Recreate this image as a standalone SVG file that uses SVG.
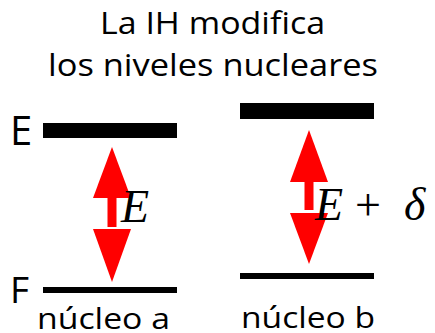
<svg xmlns="http://www.w3.org/2000/svg" width="435" height="333" viewBox="0 0 435 333">
<style>
.t{font-family:"Open Sans","Liberation Sans",sans-serif;fill:#000}
.m{font-family:"Liberation Serif","DejaVu Serif",serif;font-style:italic;font-size:46px;fill:#000}
.mu{font-family:"Liberation Serif","DejaVu Serif",serif;font-size:46px;fill:#000}
.bar{fill:#000}
.arr{fill:#FF0000}
</style>
<rect width="435" height="333" fill="#fff"/>
<g id="title">
<text class="t" x="100" y="34" font-size="31" textLength="225" lengthAdjust="spacingAndGlyphs">La IH modifica</text>
<text class="t" x="48" y="76" font-size="31" textLength="330" lengthAdjust="spacingAndGlyphs">los niveles nucleares</text>
</g>
<g id="labels">
<text class="t" x="10" y="145" font-size="40">E</text>
<text class="t" x="10" y="303" font-size="37">F</text>
</g>
<g id="nucleo-a">
<rect class="bar" x="43" y="123" width="134" height="15"/>
<rect class="bar" x="43" y="287" width="134" height="6"/>
<text class="t" x="37" y="329" font-size="30" textLength="133" lengthAdjust="spacingAndGlyphs">núcleo a</text>
</g>
<g id="nucleo-b">
<rect class="bar" x="240" y="103" width="134" height="16"/>
<rect class="bar" x="240" y="273" width="134" height="6"/>
<text class="t" x="241" y="328" font-size="30" textLength="134" lengthAdjust="spacingAndGlyphs">núcleo b</text>
</g>
<g id="connectors">
<g id="arrow-a">
<polygon class="arr" points="112,147 93,198 131,198"/>
<rect class="arr" x="107.5" y="197" width="9" height="30"/>
<polygon class="arr" points="93,229 131,229 112,282"/>
</g>
<g id="arrow-b">
<polygon class="arr" points="309,130 290,182 328,182"/>
<rect class="arr" x="304.5" y="181" width="9" height="29"/>
<polygon class="arr" points="290,213 328,213 309,264"/>
</g>
</g>
<g id="energy-a">
<text class="m" x="121" y="222">E</text>
</g>
<g id="energy-b">
<text class="m" x="315" y="220">E</text>
<text class="mu" x="355" y="220">+</text>
<text class="m" x="404" y="220">δ</text>
</g>
</svg>
